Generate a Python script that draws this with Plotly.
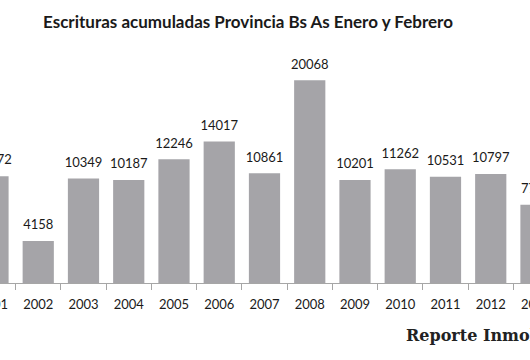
import plotly.graph_objects as go

years = ["2001", "2002", "2003", "2004", "2005", "2006", "2007",
         "2008", "2009", "2010", "2011", "2012", "2013"]
escrituras = [10572, 4158, 10349, 10187, 12246, 14017, 10861,
              20068, 10201, 11262, 10531, 10797, 7740]

title_text = "Escrituras acumuladas Provincia Bs As Enero y Febrero"
watermark = "Reporte Inmobiliario"

BAR = "#a5a4a8"
VIEW_W, H = 530, 360
P = 40                      # hidden overflow on each side (px)
W = VIEW_W + 2 * P
T, B = 50, 77
STEP = 45.25                # px per category

fig = go.Figure()
fig.add_trace(go.Bar(
    x=years, y=escrituras,
    marker=dict(color=BAR, line=dict(width=0)),
    width=0.69,
    hoverinfo="x+y",
))
fig.add_trace(go.Scatter(
    x=years, y=escrituras, mode="markers+text",
    text=[str(v) for v in escrituras], textposition="top center",
    marker=dict(size=12, opacity=0),
    textfont=dict(family="Lato", size=13, color="#1a1a1a"),
    hoverinfo="skip",
))

fig.add_annotation(
    xref="paper", yref="paper", x=(404 + P) / W, y=(H - B - 335) / (H - T - B),
    xanchor="left", yanchor="middle", text="<b>" + watermark + "</b>",
    showarrow=False, font=dict(family="DejaVu Serif", size=16, color="#222222"),
)

x0 = 0.155 - P / STEP
x1 = x0 + W / STEP

fig.update_layout(
    width=W, height=H,
    margin=dict(l=0, r=0, t=T, b=B, autoexpand=False),
    paper_bgcolor="white", plot_bgcolor="white",
    showlegend=False,
    title=dict(text="<b>" + title_text + "</b>", x=(248 + P) / W, xanchor="center",
               y=1 - 22 / H, yanchor="middle",
               font=dict(family="Lato", size=17, color="#1a1a1a")),
    xaxis=dict(
        type="category", range=[x0, x1], automargin=False,
        showline=True, linecolor="#a6a6a6", linewidth=1,
        ticks="outside", tickson="boundaries", ticklen=6, tickcolor="#a6a6a6",
        ticklabelstandoff=9,
        showgrid=False, tickfont=dict(family="Lato", size=13, color="#1a1a1a"),
        fixedrange=True,
    ),
    yaxis=dict(range=[0, 233 / 0.0101], visible=False, showgrid=False,
               fixedrange=True, automargin=False),
)

fig.write_html(
    "out.html",
    config={"displayModeBar": False},
    post_script=("document.body.style.margin='0';"
                 "document.body.style.overflow='hidden';"
                 "document.getElementById('{plot_id}').style.marginLeft='-%dpx';" % P),
)
